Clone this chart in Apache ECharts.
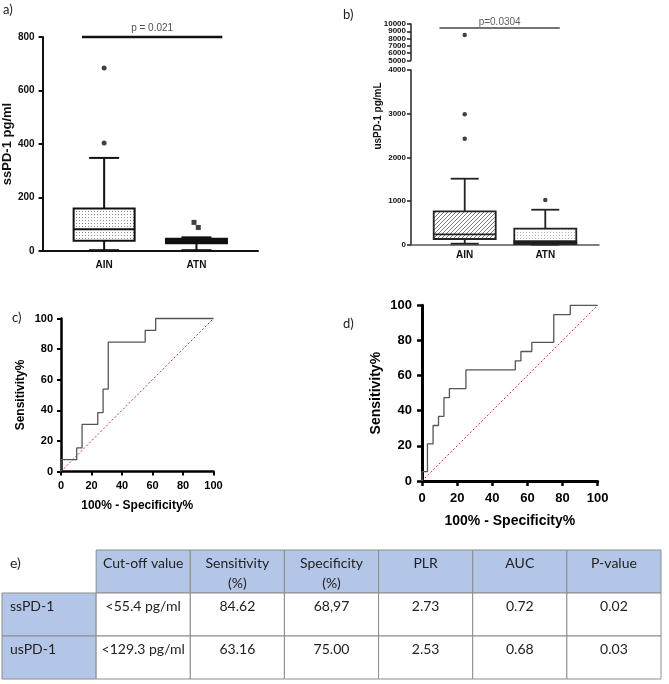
<!DOCTYPE html>
<html><head><meta charset="utf-8">
<script src="https://cdn.jsdelivr.net/npm/echarts@6/dist/echarts.min.js"></script>
<style>html,body{margin:0;padding:0;background:#fff}#c{width:669px;height:684px}</style>
</head><body><div id="c"></div>
<script>
// ---------------- DATA ----------------
const boxCategories = ['AIN', 'ATN'];
const boxX = [1, 2.5];
// [min, Q1, median, Q3, max]
const ssPD1Box = [[3, 38, 81, 159, 348], [3, 29, 40, 46, 51]];
const ssPD1OutAIN = [684, 404];
const ssPD1OutATN = [107, 88];
const ssPD1OutATNx = [2.46, 2.53];
const ssPD1Ticks = [0, 200, 400, 600, 800];
const usPD1Box = [[23, 130, 238, 765, 1511], [2, 22, 75, 366, 801]];
const usPD1OutAIN = [2427, 2986, 8500];
const usPD1OutATN = [1024];
const usPD1TicksLow = [0, 1000, 2000, 3000, 4000];
const usPD1TicksHigh = [5000, 6000, 7000, 8000, 9000, 10000];
const pLabelA = 'p = 0.021';
const pBarA = [[0.64, 800], [2.92, 800]];
const pLabelB = 'p=0.0304';
const pBarB = [[0.53, 9450], [2.77, 9450]];

const rocTicks = [0, 20, 40, 60, 80, 100];
const rocCx = [0, 0, 10.3, 10.3, 13.8, 13.8, 24.1, 24.1, 27.6, 27.6, 31.0, 31.0, 55.2, 55.2, 62.1, 62.1, 100];
const rocCy = [0, 7.7, 7.7, 15.4, 15.4, 30.8, 30.8, 38.5, 38.5, 53.8, 53.8, 84.6, 84.6, 92.3, 92.3, 100, 100];
const rocDx = [0, 0, 3.1, 3.1, 6.3, 6.3, 9.4, 9.4, 12.5, 12.5, 15.6, 15.6, 25.0, 25.0, 53.1, 53.1, 56.3, 56.3, 62.5, 62.5, 75.0, 75.0, 84.4, 84.4, 100];
const rocDy = [0, 5.3, 5.3, 21.1, 21.1, 31.6, 31.6, 36.8, 36.8, 47.4, 47.4, 52.6, 52.6, 63.2, 63.2, 68.4, 68.4, 73.7, 73.7, 78.9, 78.9, 94.7, 94.7, 100, 100];
const diagX = [0, 100];
const diagY = [0, 100];

const tableHeader = ['e)', 'Cut-off value', 'Sensitivity\n(%)', 'Specificity\n(%)', 'PLR', 'AUC', 'P-value'];
const tableRowLabels = ['ssPD-1', 'usPD-1'];
const tableCutoff = ['<55.4 pg/ml', '<129.3 pg/ml'];
const tableSensitivity = ['84.62', '63.16'];
const tableSpecificity = ['68,97', '75.00'];
const tablePLR = ['2.73', '2.53'];
const tableAUC = ['0.72', '0.68'];
const tablePValue = ['0.02', '0.03'];

// ---------------- HELPERS ----------------
const FONT = 'Liberation Sans, Arial, sans-serif';
function makePattern(kind) {
  const c = document.createElement('canvas');
  const g = c.getContext('2d');
  if (kind === 'dots' || kind === 'lightdots') {
    c.width = 3; c.height = 3;
    g.fillStyle = '#fff'; g.fillRect(0, 0, 3, 3);
    g.fillStyle = kind === 'dots' ? '#8a8a8a' : '#b5b5b5';
    g.fillRect(1, 1, 1, 1);
  } else if (kind === 'hatch') {
    c.width = 4; c.height = 4;
    g.fillStyle = '#fff'; g.fillRect(0, 0, 4, 4);
    g.strokeStyle = '#7a7a7a'; g.lineWidth = 1;
    g.beginPath();
    g.moveTo(0, 4); g.lineTo(4, 0);
    g.moveTo(-1, 1); g.lineTo(1, -1);
    g.moveTo(3, 5); g.lineTo(5, 3);
    g.stroke();
  } else {
    c.width = 2; c.height = 2; g.fillStyle = '#111'; g.fillRect(0, 0, 2, 2);
  }
  return { image: c, repeat: 'repeat' };
}

// lowFills: fill between Q1 and median (null = same as box)
function boxRender(boxW, capW, fills, lowFills, lw, color) {
  return function (params, api) {
    const x = api.value(0);
    const v = [1, 2, 3, 4, 5].map(i => api.value(i));
    const p = v.map(val => api.coord([x, val]));
    const cx = p[0][0];
    const ls = { stroke: color, lineWidth: lw };
    const children = [
      { type: 'line', shape: { x1: cx, y1: p[0][1], x2: cx, y2: p[1][1] }, style: ls },
      { type: 'line', shape: { x1: cx, y1: p[3][1], x2: cx, y2: p[4][1] }, style: ls },
      { type: 'line', shape: { x1: cx - capW / 2, y1: p[0][1], x2: cx + capW / 2, y2: p[0][1] }, style: ls },
      { type: 'line', shape: { x1: cx - capW / 2, y1: p[4][1], x2: cx + capW / 2, y2: p[4][1] }, style: ls },
      { type: 'rect', shape: { x: cx - boxW / 2, y: p[3][1], width: boxW, height: p[1][1] - p[3][1] },
        style: { fill: fills[params.dataIndex], stroke: color, lineWidth: lw } }
    ];
    const lf = lowFills[params.dataIndex];
    if (lf) {
      children.push({ type: 'rect', shape: { x: cx - boxW / 2, y: p[2][1], width: boxW, height: p[1][1] - p[2][1] },
        style: { fill: lf, stroke: color, lineWidth: lw } });
    }
    children.push({ type: 'line', shape: { x1: cx - boxW / 2, y1: p[2][1], x2: cx + boxW / 2, y2: p[2][1] }, style: ls });
    return { type: 'group', children: children };
  };
}

function catLabel(v) {
  const i = boxX.indexOf(v);
  return i >= 0 ? boxCategories[i] : '';
}

function boxXAxis(gi, show, lineColor, lineW, margin) {
  return {
    gridIndex: gi, type: 'value', min: 0, max: 3.5, interval: 0.5, show: show,
    axisLine: { onZero: false, lineStyle: { color: lineColor, width: lineW } },
    axisTick: { show: false }, splitLine: { show: false },
    axisLabel: { customValues: boxX, formatter: catLabel, fontFamily: FONT, fontWeight: 'bold', fontSize: 10, color: '#111', margin: margin }
  };
}

function rocAxis(gi, dim, o) {
  return {
    gridIndex: gi, type: 'value', min: 0, max: 100, interval: 20,
    axisLine: { onZero: false, lineStyle: { color: '#000', width: o.lw } },
    axisTick: { length: o.tick, lineStyle: { color: '#000', width: o.lw - 0.5 } },
    splitLine: { show: false },
    axisLabel: { fontFamily: FONT, fontWeight: 'bold', fontSize: o.fs, color: '#000', margin: dim === 'x' ? o.mx : o.my,
      showMinLabel: true, showMaxLabel: true, formatter: v => String(v) },
    name: dim === 'x' ? '100% - Specificity%' : 'Sensitivity%',
    nameLocation: 'middle', nameGap: dim === 'x' ? o.gx : o.gy,
    nameTextStyle: { fontFamily: FONT, fontWeight: 'bold', fontSize: o.nfs, color: '#000' }
  };
}

function usYAxis(gi, min, max, ticks, labels, showLine) {
  return {
    gridIndex: gi, type: 'value', position: 'left', offset: 0, min: min, max: max, interval: 1000,
    axisLine: { show: showLine, onZero: false, lineStyle: { color: '#222', width: 1.5 } },
    axisTick: { show: showLine, length: 4, lineStyle: { width: 1.5 }, customValues: ticks }, splitLine: { show: false },
    axisLabel: { fontFamily: FONT, fontWeight: 'bold', fontSize: 8, color: '#111', margin: 5,
      customValues: labels, showMinLabel: true, showMaxLabel: true, hideOverlap: false, formatter: v => String(v) }
  };
}

const pairs = (xs, ys) => xs.map((x, i) => [x, ys[i]]);

// ---------------- TABLE ----------------
const tableRows = [tableHeader].concat(tableRowLabels.map((l, i) =>
  [l, tableCutoff[i], tableSensitivity[i], tableSpecificity[i], tablePLR[i], tableAUC[i], tablePValue[i]]));
const tableData = [];
tableRows.forEach((r, ri) => r.forEach((_, ci) => tableData.push([ci, ri])));

function tableRender(params, api) {
  const col = api.value(0), row = api.value(1);
  const c = api.coord([col, row]);
  const s = api.size([1, 1]);
  const w = s[0], h = s[1];
  const x0 = c[0] - w / 2, y0 = c[1] - h / 2;
  const blue = (row === 0 && col > 0) || (col === 0 && row > 0);
  const corner = row === 0 && col === 0;
  const left = col === 0;
  return {
    type: 'group', children: [
      { type: 'rect', shape: { x: x0, y: y0, width: w, height: h },
        style: { fill: blue ? '#b4c6e7' : '#fff', stroke: corner ? null : '#8c8c8c', lineWidth: 1 } },
      { type: 'text', style: { text: tableRows[row][col], x: left ? x0 + 8 : c[0], y: y0 + 3,
        align: left ? 'left' : 'center', verticalAlign: 'top',
        font: '14px Lato, sans-serif', fill: '#222', lineHeight: 20 } }
    ]
  };
}

// ---------------- CHART ----------------
const chart = echarts.init(document.getElementById('c'), null, { renderer: 'canvas' });

const usLowAIN = usPD1OutAIN.filter(v => v <= 4000), usHighAIN = usPD1OutAIN.filter(v => v > 4000);
const highEven = usPD1TicksHigh.filter((v, i) => i % 2 === 1);  // 6000, 8000, 10000
const highOdd = usPD1TicksHigh.filter((v, i) => i % 2 === 0);   // 5000, 7000, 9000
const solid = makePattern('solid');

const option = {
  backgroundColor: '#fff',
  animation: false,
  grid: [
    { left: 40, top: 37, width: 218, height: 214 },            // a
    { left: 411, top: 24, width: 188, height: 36.3 },          // b top
    { left: 411, top: 70, width: 188, height: 174.7 },         // b bottom
    { left: 61, top: 318.5, width: 152.5, height: 153 },       // c
    { left: 422, top: 305.3, width: 175.7, height: 175.7 },    // d
    { left: 2, right: 8, top: 550, bottom: 5 }                 // table
  ],
  xAxis: [
    boxXAxis(0, true, '#111', 2, 9),
    boxXAxis(1, false, '#555', 1.5, 6),
    boxXAxis(2, true, '#555', 1.5, 6),
    rocAxis(3, 'x', { lw: 2.5, tick: 4, fs: 11, mx: 9, my: 8, gx: 28, gy: 34, nfs: 12 }),
    rocAxis(4, 'x', { lw: 3, tick: 5, fs: 13, mx: 11, my: 10, gx: 33, gy: 39, nfs: 14 }),
    { gridIndex: 5, type: 'category', data: tableHeader, show: false }
  ],
  yAxis: [
    { gridIndex: 0, type: 'value', min: 0, max: 800, interval: 200,
      axisLine: { show: true, lineStyle: { color: '#111', width: 2 } },
      axisTick: { show: true, length: 4, lineStyle: { width: 2 } }, splitLine: { show: false },
      axisLabel: { fontFamily: FONT, fontWeight: 'bold', fontSize: 10, color: '#111', margin: 8,
        showMinLabel: true, showMaxLabel: true, formatter: v => String(v) },
      name: 'ssPD-1 pg/ml', nameLocation: 'middle', nameGap: 26,
      nameTextStyle: { fontFamily: FONT, fontWeight: 'bold', fontSize: 13, color: '#111' } },
    usYAxis(1, 5000, 10000, usPD1TicksHigh, highEven, true),
    usYAxis(2, 0, 4000, usPD1TicksLow, usPD1TicksLow, true),
    rocAxis(3, 'y', { lw: 2.5, tick: 4, fs: 11, mx: 9, my: 8, gx: 28, gy: 34, nfs: 12 }),
    rocAxis(4, 'y', { lw: 3, tick: 5, fs: 13, mx: 11, my: 10, gx: 33, gy: 39, nfs: 14 }),
    { gridIndex: 5, type: 'category', data: ['header'].concat(tableRowLabels), inverse: true, show: false },
    usYAxis(1, 5000, 10000, usPD1TicksHigh, highOdd, false)
  ],
  graphic: [
    { type: 'text', left: 3, top: 3, style: { text: 'a)', font: '13px Lato, sans-serif', fill: '#222' } },
    { type: 'text', left: 343, top: 8, style: { text: 'b)', font: '13px Lato, sans-serif', fill: '#222' } },
    { type: 'text', left: 12, top: 311, style: { text: 'c)', font: '13px Lato, sans-serif', fill: '#222' } },
    { type: 'text', left: 343, top: 317, style: { text: 'd)', font: '13px Lato, sans-serif', fill: '#222' } },
    { type: 'text', x: 378, y: 116, rotation: Math.PI / 2,
      style: { text: 'usPD-1 pg/mL', font: 'bold 10px ' + FONT, fill: '#111', align: 'center', verticalAlign: 'middle' } }
  ],
  series: [
    // ---- panel a ----
    { type: 'custom', xAxisIndex: 0, yAxisIndex: 0,
      renderItem: boxRender(61, 30, [makePattern('dots'), solid], [null, null], 2, '#111'),
      data: ssPD1Box.map((b, i) => [boxX[i]].concat(b)), encode: { x: 0, y: [1, 2, 3, 4, 5] }, z: 3 },
    { type: 'scatter', xAxisIndex: 0, yAxisIndex: 0, symbol: 'circle', symbolSize: 5,
      itemStyle: { color: '#111' }, data: ssPD1OutAIN.map(v => [boxX[0], v]) },
    { type: 'scatter', xAxisIndex: 0, yAxisIndex: 0, symbol: 'rect', symbolSize: 5,
      itemStyle: { color: '#111' }, data: ssPD1OutATN.map((v, i) => [ssPD1OutATNx[i], v]) },
    { type: 'line', xAxisIndex: 0, yAxisIndex: 0, data: pBarA, symbol: 'none', clip: false,
      lineStyle: { color: '#111', width: 2.5 }, z: 4 },
    { type: 'scatter', xAxisIndex: 0, yAxisIndex: 0, symbolSize: 0, clip: false,
      data: [[(pBarA[0][0] + pBarA[1][0]) / 2, pBarA[0][1]]],
      label: { show: true, position: 'top', distance: 4, formatter: pLabelA, fontFamily: FONT, fontSize: 10, color: '#222' } },
    // ---- panel b ----
    { type: 'custom', xAxisIndex: 2, yAxisIndex: 2,
      renderItem: boxRender(62, 28, [makePattern('hatch'), makePattern('lightdots')], [null, solid], 1.8, '#222'),
      data: usPD1Box.map((b, i) => [boxX[i]].concat(b)), encode: { x: 0, y: [1, 2, 3, 4, 5] }, z: 3 },
    { type: 'scatter', xAxisIndex: 2, yAxisIndex: 2, symbol: 'circle', symbolSize: 4.5,
      itemStyle: { color: '#111' }, data: usLowAIN.map(v => [boxX[0], v]).concat(usPD1OutATN.map(v => [boxX[1], v])) },
    { type: 'scatter', xAxisIndex: 1, yAxisIndex: 1, symbol: 'circle', symbolSize: 4.5,
      itemStyle: { color: '#111' }, data: usHighAIN.map(v => [boxX[0], v]) },
    { type: 'line', xAxisIndex: 1, yAxisIndex: 1, data: pBarB, symbol: 'none', clip: false,
      lineStyle: { color: '#444', width: 1.3 } },
    { type: 'scatter', xAxisIndex: 1, yAxisIndex: 1, symbolSize: 0, clip: false,
      data: [[(pBarB[0][0] + pBarB[1][0]) / 2, pBarB[0][1]]],
      label: { show: true, position: 'top', distance: 1, formatter: pLabelB, fontFamily: FONT, fontSize: 10, color: '#333' } },
    // ---- panel c ----
    { type: 'line', xAxisIndex: 3, yAxisIndex: 3, data: pairs(diagX, diagY), symbol: 'none',
      lineStyle: { color: '#c0394b', width: 1, type: [2, 2] } },
    { type: 'line', xAxisIndex: 3, yAxisIndex: 3, data: pairs(rocCx, rocCy), symbol: 'none', clip: false,
      lineStyle: { color: '#555', width: 1.3 } },
    // ---- panel d ----
    { type: 'line', xAxisIndex: 4, yAxisIndex: 4, data: pairs(diagX, diagY), symbol: 'none',
      lineStyle: { color: '#c0394b', width: 1, type: [2, 2] } },
    { type: 'line', xAxisIndex: 4, yAxisIndex: 4, data: pairs(rocDx, rocDy), symbol: 'none', clip: false,
      lineStyle: { color: '#555', width: 1.3 } },
    // ---- table ----
    { type: 'custom', xAxisIndex: 5, yAxisIndex: 5, renderItem: tableRender, data: tableData,
      encode: { x: 0, y: 1 }, silent: true }
  ]
};
chart.setOption(option);
</script></body></html>
